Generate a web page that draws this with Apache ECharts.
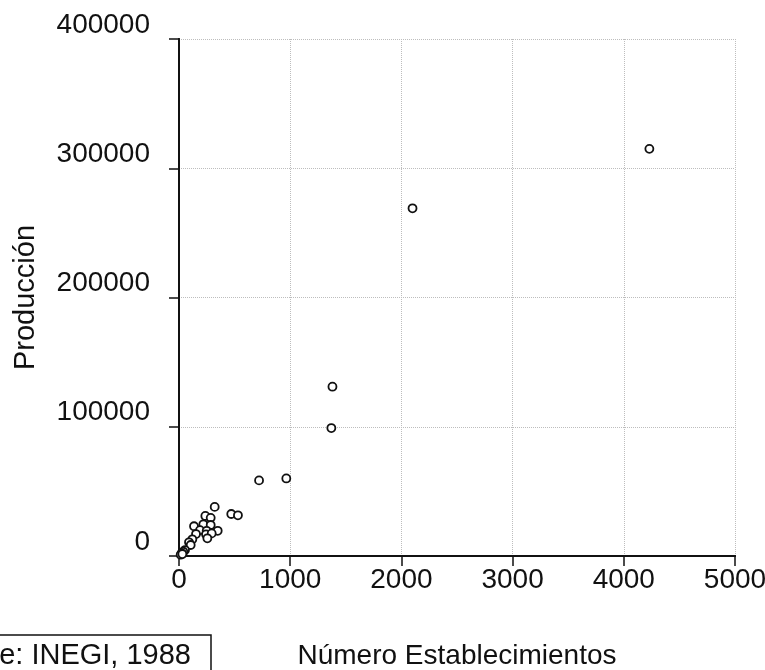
<!DOCTYPE html>
<html>
<head>
<meta charset="utf-8">
<script src="https://cdn.jsdelivr.net/npm/echarts@6/dist/echarts.min.js"></script>
<style>html,body{margin:0;padding:0;background:#fff}#c{width:765px;height:670px}</style>
</head>
<body>
<div id="c"></div>
<script>
const establecimientos = [4230, 2100, 1380, 1370, 965, 720, 470, 530, 321, 237, 285, 135, 219, 285, 189, 249, 348, 153, 243, 294, 255, 120, 90, 105, 54, 39, 24, 15, 30];
const produccion = [315000, 269000, 131000, 99000, 60000, 58500, 32500, 31500, 38000, 31000, 29500, 23000, 24500, 24000, 20000, 19500, 19500, 17000, 16800, 17500, 13700, 12900, 10600, 8500, 4600, 3300, 2100, 1000, 1500];
const xTitle = 'Número Establecimientos';
const yTitle = 'Producción';
const sourceText = 'Fuente: INEGI, 1988';

const points = establecimientos.map((x, i) => [x, produccion[i]]);
const FONT = 'Liberation Sans, Arial, sans-serif';

const chart = echarts.init(document.getElementById('c'), null, {renderer: 'canvas'});
chart.setOption({
  backgroundColor: '#fff',
  animation: false,
  grid: {left: 179, right: 30, top: 39, bottom: 114, outerBoundsMode: 'none', containLabel: false},
  xAxis: [{
    type: 'value', min: 0, max: 5000, interval: 1000,
    name: xTitle, nameLocation: 'middle', nameGap: 86,
    nameTextStyle: {fontFamily: FONT, fontSize: 28, color: '#111'},
    axisLine: {show: true, onZero: false, lineStyle: {color: '#111', width: 2}},
    axisTick: {show: true, length: 10, lineStyle: {color: '#111', width: 1.5}},
    axisLabel: {fontFamily: FONT, fontSize: 28, color: '#111', margin: 10, formatter: v => String(v), hideOverlap: false},
    splitLine: {show: true, lineStyle: {color: '#bdbdbd', width: 1, type: 'dotted'}}
  }, {
    type: 'value', position: 'top', min: 0, max: 5000,
    axisLine: {show: true, lineStyle: {color: '#111', width: 2}},
    axisTick: {show: false}, axisLabel: {show: false}, splitLine: {show: false}
  }],
  yAxis: [{
    type: 'value', min: 0, max: 400000, interval: 100000,
    name: yTitle, nameLocation: 'middle', nameGap: 139, nameRotate: 90,
    nameTextStyle: {fontFamily: FONT, fontSize: 29, color: '#111'},
    axisLine: {show: true, onZero: false, lineStyle: {color: '#111', width: 2}},
    axisTick: {show: true, length: 10, lineStyle: {color: '#111', width: 1.5}},
    axisLabel: {fontFamily: FONT, fontSize: 28, color: '#111', margin: 29, verticalAlign: 'bottom', formatter: v => String(v)},
    splitLine: {show: true, lineStyle: {color: '#bdbdbd', width: 1, type: 'dotted'}}
  }, {
    type: 'value', position: 'right', min: 0, max: 400000,
    axisLine: {show: true, lineStyle: {color: '#111', width: 2}},
    axisTick: {show: false}, axisLabel: {show: false}, splitLine: {show: false}
  }],
  series: [{
    type: 'scatter',
    data: points,
    symbol: 'circle',
    symbolSize: 8,
    itemStyle: {color: '#fff', borderColor: '#111', borderWidth: 1.8, opacity: 1},
    z: 5
  }],
  graphic: [
    {type: 'rect', shape: {x: -5, y: 635, width: 216, height: 50},
     style: {fill: 'none', stroke: '#111', lineWidth: 1.5}},
    {type: 'text', x: 191, y: 656,
     style: {text: sourceText, fontFamily: FONT, fontSize: 29, fill: '#111', textAlign: 'right', textVerticalAlign: 'middle'}}
  ]
});
</script>
</body>
</html>
